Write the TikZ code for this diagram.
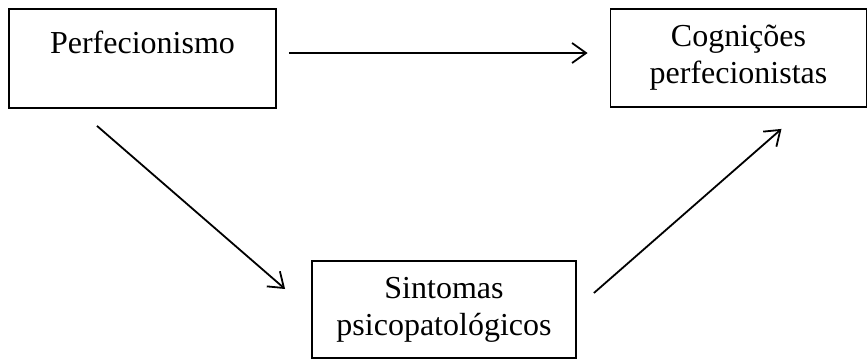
\documentclass[tikz,border=0pt]{standalone}
\usepackage{fontspec}
\setmainfont{Liberation Serif}
\usetikzlibrary{arrows.meta}

\begin{document}
\begin{tikzpicture}[x=0.5pt, y=-0.5pt,
        caixa/.style={draw, line width=0.9pt, inner sep=0pt, align=center,
                      font=\fontsize{16}{18.5}\selectfont},
        seta/.style={-{Straight Barb[length=7pt,width=10pt]}, line width=0.9pt}]
                \useasboundingbox (0,0) rectangle (868,360);
                \node [caixa, minimum width=133.5pt, text height=22pt, text depth=27.5pt] (perf) at (142.5,58.5) {Perfecionismo};
                \node [caixa, minimum width=128pt, minimum height=49pt] (cogn) at (738.5,58) {Cognições\\perfecionistas};
                \node [caixa, minimum width=132pt, minimum height=48.5pt] (sint) at (444,309.5) {Sintomas\\psicopatológicos};
                \draw [seta] ([xshift=6pt, yshift=2.75pt]perf.east) -- ([xshift=-11pt, yshift=2.5pt]cogn.west);
                \draw [seta] ([xshift=-22.75pt, yshift=-8.5pt]perf.south) -- ([xshift=-13pt, yshift=10.25pt]sint.west);
                \draw [seta] ([xshift=8.5pt, yshift=8.25pt]sint.east) -- ([xshift=21.5pt, yshift=-10.5pt]cogn.south);
            \end{tikzpicture}
\end{document}
